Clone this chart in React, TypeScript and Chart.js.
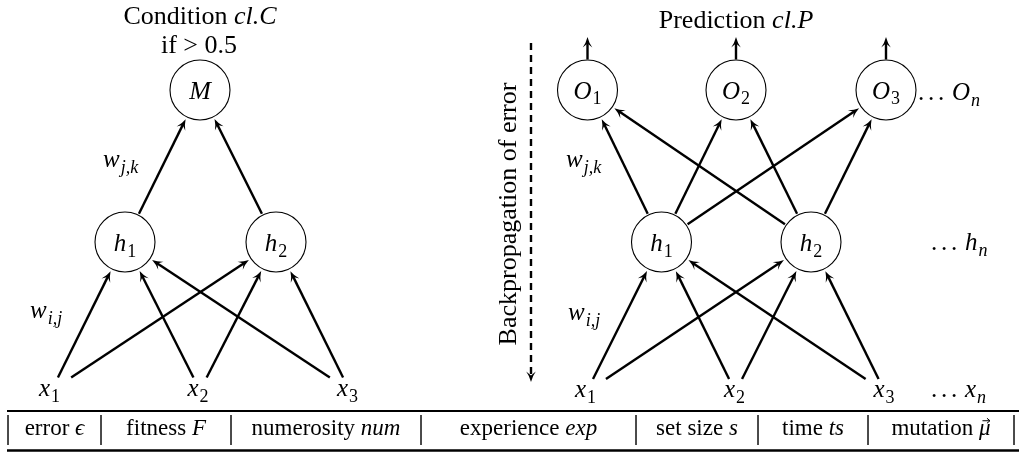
import { useEffect, useRef } from "react";
import { Chart, registerables } from "chart.js";

Chart.register(...registerables);

const W = 1019;
const H = 454;

// ---- Diagram data (diagram coordinates) ----
// Left network: Condition cl.C
const leftInputX = [51.5, 200, 349.5];
const leftInputY = 390.5;
const leftHiddenX = [125, 276];
const leftOutputX = [200];
// Right network: Prediction cl.P
const rightInputX = [586.5, 735.5, 885];
const rightInputY = 392;
const rightHiddenX = [661.5, 811];
const rightOutputX = [587.5, 736, 886];
// shared layer heights
const hiddenY = 242;
const outputY = 90;
const outArrowTipY = 37;
// backpropagation arrow
const backpropX = 531;
const backpropY = [43, 382];
// table
const tableLabels = ["error ", "fitness ", "numerosity ", "experience ", "set size ", "time ", "mutation "];
const tableSymbols = ["ϵ", "F", "num", "exp", "s", "ts", "μ"];
const tableBars = [8, 101, 231, 421, 636, 758, 868, 1014];
const tableRuleY = [411, 450.5];
const tableRuleX = [7, 1019];
const tableBaseline = 435;
const tableBarY = [415, 445];

const NODE_R = 30;
const FONT = '"Liberation Serif", "DejaVu Serif", serif';

type Seg = [string, string];
type Label = { x: number; y: number; segs: Seg[]; size: number; align: "left" | "center" };

function fontFor(style: string, size: number) {
  const sub = style === "sr" || style === "si";
  const s = sub ? size * 0.72 : size;
  const it = style === "i" || style === "si" || style === "v";
  return `${it ? "italic " : ""}${s}px ${FONT}`;
}

function segWidth(ctx: CanvasRenderingContext2D, seg: Seg, size: number) {
  if (seg[1] === "d") return size * 1.36;
  ctx.font = fontFor(seg[1], size);
  return ctx.measureText(seg[0]).width + (seg[1] === "si" || seg[1] === "sr" ? 1 : 0);
}

function drawRich(ctx: CanvasRenderingContext2D, lab: Label) {
  const { segs, size } = lab;
  let total = 0;
  for (const s of segs) total += segWidth(ctx, s, size);
  let x = lab.align === "center" ? lab.x - total / 2 : lab.x;
  ctx.fillStyle = "#000";
  ctx.textBaseline = "alphabetic";
  ctx.textAlign = "left";
  for (const s of segs) {
    const w = segWidth(ctx, s, size);
    if (s[1] === "d") {
      ctx.font = fontFor("r", size);
      for (let k = 0; k < 3; k++) ctx.fillText(".", x + k * size * 0.4, lab.y);
    } else {
      ctx.font = fontFor(s[1], size);
      const dy = s[1] === "si" || s[1] === "sr" ? size * 0.22 : 0;
      ctx.fillText(s[0], x + (s[1] === "si" || s[1] === "sr" ? 1 : 0), lab.y + dy);
      if (s[1] === "v") {
        // vector arrow above
        const ax0 = x + w * 0.3;
        const ax1 = x + w * 0.95;
        const ay = lab.y - size * 0.62;
        ctx.strokeStyle = "#000";
        ctx.lineWidth = 1;
        ctx.beginPath();
        ctx.moveTo(ax0, ay);
        ctx.lineTo(ax1, ay);
        ctx.moveTo(ax1 - 3, ay - 2.5);
        ctx.lineTo(ax1, ay);
        ctx.lineTo(ax1 - 3, ay + 2.5);
        ctx.stroke();
      }
    }
    x += w;
  }
}

type Pt = { x: number; y: number };
const sub = (a: Pt, b: Pt) => ({ x: a.x - b.x, y: a.y - b.y });
const unit = (v: Pt) => {
  const l = Math.hypot(v.x, v.y);
  return { x: v.x / l, y: v.y / l };
};

type Edge = { start: Pt; tip: Pt; width: number; dash?: number[] };
const edges: Edge[] = [];

function inputToHidden(ins: number[], iy: number, hs: number[]) {
  for (const ix of ins) {
    for (const hx of hs) {
      const from = { x: ix, y: iy };
      const to = { x: hx, y: hiddenY };
      const f = 13 / (iy - hiddenY);
      const start = { x: from.x + (to.x - from.x) * f, y: from.y + (to.y - from.y) * f };
      const u = unit(sub(to, from));
      const tip = { x: to.x - u.x * (NODE_R + 2.5), y: to.y - u.y * (NODE_R + 2.5) };
      edges.push({ start, tip, width: 2.4 });
    }
  }
}
function hiddenToOutput(hs: number[], os: number[]) {
  for (const hx of hs) {
    for (const ox of os) {
      const from = { x: hx, y: hiddenY };
      const to = { x: ox, y: outputY };
      const u = unit(sub(to, from));
      const start = { x: from.x + u.x * (NODE_R + 1.5), y: from.y + u.y * (NODE_R + 1.5) };
      const tip = { x: to.x - u.x * (NODE_R + 2.5), y: to.y - u.y * (NODE_R + 2.5) };
      edges.push({ start, tip, width: 2.4 });
    }
  }
}
inputToHidden(leftInputX, leftInputY, leftHiddenX);
hiddenToOutput(leftHiddenX, leftOutputX);
inputToHidden(rightInputX, rightInputY, rightHiddenX);
hiddenToOutput(rightHiddenX, rightOutputX);
for (const ox of rightOutputX) {
  edges.push({ start: { x: ox, y: outputY - NODE_R - 0.5 }, tip: { x: ox, y: outArrowTipY }, width: 2.4 });
}
edges.push({ start: { x: backpropX, y: backpropY[0] }, tip: { x: backpropX, y: backpropY[1] }, width: 2.4, dash: [7, 5] });

const labels: Label[] = [];
const NS = 25;
labels.push({ x: 200, y: 24, segs: [["Condition ", "r"], ["cl.C", "i"]], size: 26, align: "center" });
labels.push({ x: 199, y: 53, segs: [["if > 0.5", "r"]], size: 26, align: "center" });
labels.push({ x: 736, y: 28, segs: [["Prediction ", "r"], ["cl.P", "i"]], size: 26, align: "center" });
leftOutputX.forEach((x) => labels.push({ x, y: outputY + 8.5, segs: [["M", "i"]], size: 26, align: "center" }));
rightOutputX.forEach((x, i) =>
  labels.push({ x, y: outputY + 8.5, segs: [["O", "i"], [String(i + 1), "sr"]], size: NS, align: "center" })
);
[...leftHiddenX, ...rightHiddenX].forEach((x, i) =>
  labels.push({ x, y: hiddenY + 9, segs: [["h", "i"], [String((i % 2) + 1), "sr"]], size: NS, align: "center" })
);
leftInputX.forEach((x, i) =>
  labels.push({ x: x - 2, y: 396, segs: [["x", "i"], [String(i + 1), "sr"]], size: NS, align: "center" })
);
rightInputX.forEach((x, i) =>
  labels.push({ x: x - 1, y: 397, segs: [["x", "i"], [String(i + 1), "sr"]], size: NS, align: "center" })
);
labels.push({ x: 918, y: 100, segs: [["", "d"], ["O", "i"], ["n", "si"]], size: NS, align: "left" });
labels.push({ x: 931, y: 250, segs: [["", "d"], ["h", "i"], ["n", "si"]], size: NS, align: "left" });
labels.push({ x: 931, y: 397, segs: [["", "d"], ["x", "i"], ["n", "si"]], size: NS, align: "left" });
labels.push({ x: 103, y: 167, segs: [["w", "i"], ["j,k", "si"]], size: NS, align: "left" });
labels.push({ x: 566, y: 167, segs: [["w", "i"], ["j,k", "si"]], size: NS, align: "left" });
labels.push({ x: 30, y: 318, segs: [["w", "i"], ["i,j", "si"]], size: NS, align: "left" });
labels.push({ x: 568, y: 320, segs: [["w", "i"], ["i,j", "si"]], size: NS, align: "left" });
tableLabels.forEach((t, i) => {
  const cx = (tableBars[i] + tableBars[i + 1]) / 2;
  const style = tableSymbols[i] === "μ" ? "v" : "i";
  labels.push({ x: cx, y: tableBaseline, segs: [[t, "r"], [tableSymbols[i], style]], size: 23, align: "center" });
});

const diagramPlugin = {
  id: "diagram",
  afterDatasetsDraw(chart: any) {
    const ctx: CanvasRenderingContext2D = chart.ctx;
    const xs = chart.scales.x;
    const ys = chart.scales.y;
    ctx.save();
    // arrow heads
    ctx.fillStyle = "#000";
    for (const e of edges) {
      const tip = { x: xs.getPixelForValue(e.tip.x), y: ys.getPixelForValue(e.tip.y) };
      const st = { x: xs.getPixelForValue(e.start.x), y: ys.getPixelForValue(e.start.y) };
      const u = unit(sub(tip, st));
      const n = { x: -u.y, y: u.x };
      const L = 10.5;
      const Wd = 4.8;
      const bx = tip.x - u.x * L;
      const by = tip.y - u.y * L;
      ctx.beginPath();
      ctx.moveTo(tip.x, tip.y);
      ctx.quadraticCurveTo(tip.x - u.x * 6 + n.x * 1.5, tip.y - u.y * 6 + n.y * 1.5, bx + n.x * Wd, by + n.y * Wd);
      ctx.lineTo(tip.x - u.x * 6.5, tip.y - u.y * 6.5);
      ctx.lineTo(bx - n.x * Wd, by - n.y * Wd);
      ctx.quadraticCurveTo(tip.x - u.x * 6 - n.x * 1.5, tip.y - u.y * 6 - n.y * 1.5, tip.x, tip.y);
      ctx.closePath();
      ctx.fill();
    }
    // labels
    for (const lab of labels) {
      drawRich(ctx, { ...lab, x: xs.getPixelForValue(lab.x), y: ys.getPixelForValue(lab.y) });
    }
    // rotated label
    ctx.translate(xs.getPixelForValue(516), ys.getPixelForValue(214));
    ctx.rotate(-Math.PI / 2);
    ctx.font = `26px ${FONT}`;
    ctx.textAlign = "center";
    ctx.textBaseline = "alphabetic";
    ctx.fillText("Backpropagation of error", 0, 0);
    ctx.restore();
  },
};

function buildDatasets() {
  const ds: any[] = [];
  // nodes (drawn on top of edges)
  const nodes = [
    ...leftOutputX.map((x) => ({ x, y: outputY })),
    ...rightOutputX.map((x) => ({ x, y: outputY })),
    ...leftHiddenX.map((x) => ({ x, y: hiddenY })),
    ...rightHiddenX.map((x) => ({ x, y: hiddenY })),
  ];
  ds.push({
    data: nodes,
    showLine: false,
    pointStyle: "circle",
    pointRadius: NODE_R,
    pointBackgroundColor: "#fff",
    pointBorderColor: "#000",
    pointBorderWidth: 1.1,
    order: 0,
    clip: false,
  });
  for (const e of edges) {
    const u = unit(sub(e.tip, e.start));
    const end = { x: e.tip.x - u.x * 5, y: e.tip.y - u.y * 5 };
    ds.push({
      data: [e.start, end],
      showLine: true,
      borderColor: "#000",
      borderWidth: e.width,
      borderDash: e.dash || [],
      pointRadius: 0,
      order: 1,
      clip: false,
    });
  }
  // table rules
  tableRuleY.forEach((y, i) =>
    ds.push({
      data: [
        { x: tableRuleX[0], y },
        { x: tableRuleX[1], y },
      ],
      showLine: true,
      borderColor: "#000",
      borderWidth: i === 0 ? 2.2 : 2.6,
      pointRadius: 0,
      order: 2,
      clip: false,
    })
  );
  tableBars.forEach((x) =>
    ds.push({
      data: [
        { x, y: tableBarY[0] },
        { x, y: tableBarY[1] },
      ],
      showLine: true,
      borderColor: "#333",
      borderWidth: 1,
      pointRadius: 0,
      order: 2,
      clip: false,
    })
  );
  return ds;
}

export default function App() {
  const ref = useRef<HTMLCanvasElement>(null);
  useEffect(() => {
    document.body.style.margin = "0";
    const chart = new Chart(ref.current as HTMLCanvasElement, {
      type: "scatter",
      data: { datasets: buildDatasets() },
      options: {
        animation: false,
        responsive: false,
        devicePixelRatio: 1,
        events: [],
        layout: { padding: 0, autoPadding: false },
        plugins: { legend: { display: false }, tooltip: { enabled: false } },
        scales: {
          x: { type: "linear", min: 0, max: W, display: false },
          y: { type: "linear", min: 0, max: H, reverse: true, display: false },
        },
      },
      plugins: [diagramPlugin],
    } as any);
    return () => chart.destroy();
  }, []);
  return (
    <div style={{ position: "absolute", left: 0, top: 0, width: W, height: H, background: "#fff" }}>
      <canvas ref={ref} width={W} height={H} style={{ display: "block", width: W, height: H }} />
    </div>
  );
}
